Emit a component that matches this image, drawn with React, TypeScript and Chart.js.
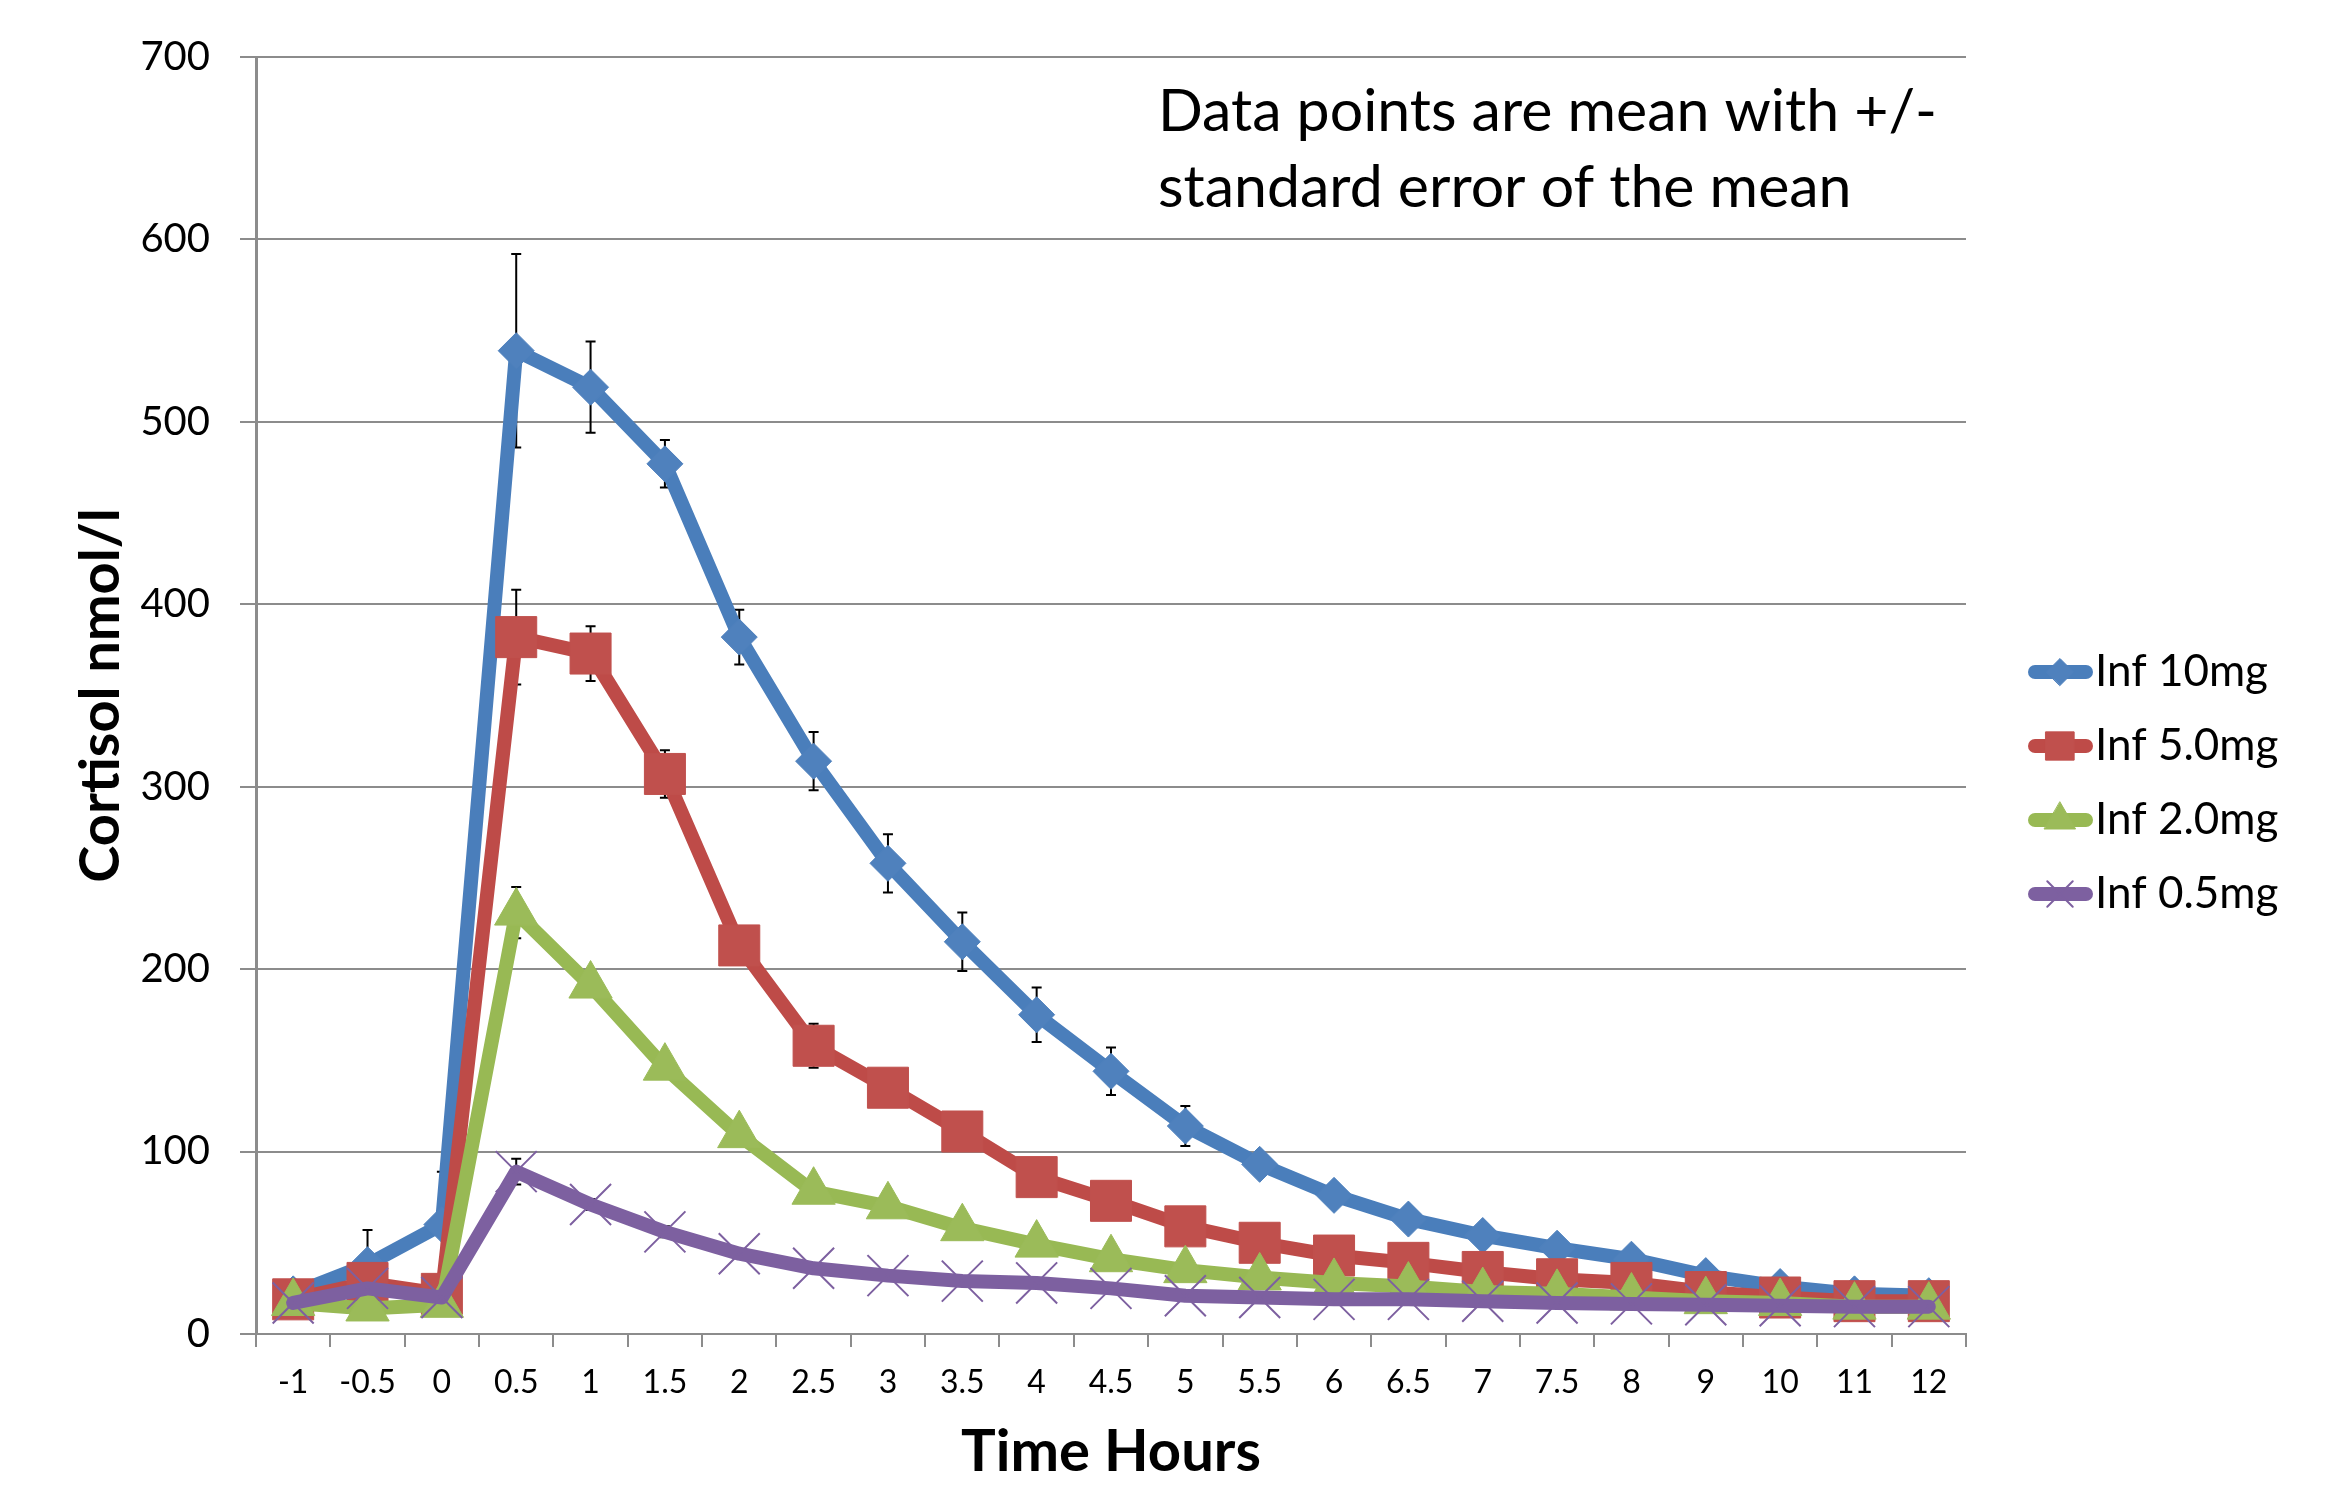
import React, { useEffect, useRef } from 'react';
import { Chart, registerables } from 'chart.js';
import { drawPoint } from 'chart.js/helpers';

Chart.register(...registerables);

const timeLabels = ['-1', '-0.5', '0', '0.5', '1', '1.5', '2', '2.5', '3', '3.5', '4', '4.5', '5', '5.5', '6', '6.5', '7', '7.5', '8', '9', '10', '11', '12'];

const inf10 = [22, 38, 60, 539, 519, 477, 382, 314, 258, 215, 175, 144, 114, 93, 76, 63, 54, 47, 41, 32, 26, 22, 21];
const inf10Err = [4, 19, 29, 53, 25, 13, 15, 16, 16, 16, 15, 13, 11, 6, 5, 4, 4, 3, 3, 3, 2, 2, 2];

const inf5 = [19, 28, 22, 382, 373, 307, 213, 158, 135, 111, 86, 73, 59, 50, 43, 39, 34, 30, 28, 23, 20, 18, 18];
const inf5Err = [2, 3, 3, 26, 15, 13, 10, 12, 6, 5, 4, 3, 3, 3, 2, 2, 2, 2, 2, 2, 2, 1, 1];

const inf2 = [17, 14, 16, 231, 191, 146, 109, 78, 70, 58, 49, 41, 35, 31, 28, 26, 23, 22, 20, 18, 17, 15, 15];
const inf2Err = [1, 1, 1, 14, 6, 5, 6, 6, 4, 3, 3, 2, 2, 2, 2, 2, 1, 1, 1, 1, 1, 1, 1];

const inf05 = [17, 25, 20, 89, 71, 56, 44, 36, 32, 29, 28, 25, 21, 20, 19, 19, 18, 17, 16.5, 16, 15.5, 15, 15];
const inf05Err = [1, 2, 2, 7, 3, 3, 2, 2, 2, 2, 2, 1, 1, 1, 1, 1, 1, 1, 1, 1, 1, 1, 1];

const seriesLabels = ['Inf 10mg', 'Inf 5.0mg', 'Inf 2.0mg', 'Inf 0.5mg'];
const yTicks = [0, 100, 200, 300, 400, 500, 600, 700];
const noteLines = ['Data points are mean with +/-', 'standard error of the mean'];

const FONT = 'Lato, "Open Sans", sans-serif';

const errorBarPlugin = {
  id: 'errorBars',
  beforeDatasetDraw(chart: any, args: any) {
    const ds: any = chart.data.datasets[args.index];
    const errs = ds.errors;
    if (!errs) return;
    const yScale = chart.scales.y;
    const ctx = chart.ctx;
    ctx.save();
    ctx.strokeStyle = '#000';
    ctx.lineWidth = 2;
    args.meta.data.forEach((pt: any, i: number) => {
      const v = ds.data[i];
      const e = errs[i];
      if (!e) return;
      const top = yScale.getPixelForValue(v + e);
      const bot = yScale.getPixelForValue(v - e);
      const x = pt.x;
      ctx.beginPath();
      ctx.moveTo(x, top);
      ctx.lineTo(x, bot);
      ctx.moveTo(x - 5, top);
      ctx.lineTo(x + 5, top);
      ctx.moveTo(x - 5, bot);
      ctx.lineTo(x + 5, bot);
      ctx.stroke();
    });
    ctx.restore();
  },
};

const legendRadii = [13.5, 20, 18, 18];

const legendPlugin = {
  id: 'customLegend',
  afterDraw(chart: any) {
    const ctx = chart.ctx;
    const top = 672;
    const step = 74;
    chart.data.datasets.forEach((ds: any, i: number) => {
      const cy = top + i * step;
      ctx.save();
      ctx.strokeStyle = ds.borderColor;
      ctx.lineWidth = 14;
      ctx.lineCap = 'round';
      ctx.beginPath();
      ctx.moveTo(2035, cy);
      ctx.lineTo(2086, cy);
      ctx.stroke();
      ctx.fillStyle = ds.pointBackgroundColor;
      ctx.strokeStyle = ds.pointBorderColor;
      ctx.lineWidth = ds.pointBorderWidth;
      drawPoint(ctx, { pointStyle: ds.pointStyle, radius: legendRadii[i], rotation: 0, borderWidth: ds.pointBorderWidth } as any, 2060, cy);
      ctx.fillStyle = '#000';
      ctx.font = `44px ${FONT}`;
      ctx.textBaseline = 'middle';
      ctx.textAlign = 'left';
      ctx.fillText(ds.label, 2095, cy);
      ctx.restore();
    });
  },
};

const notePlugin = {
  id: 'note',
  afterDraw(chart: any) {
    const ctx = chart.ctx;
    ctx.save();
    ctx.fillStyle = '#000';
    ctx.font = `59px ${FONT}`;
    ctx.textBaseline = 'middle';
    ctx.textAlign = 'left';
    noteLines.forEach((t, i) => ctx.fillText(t, 1158, 112 + i * 76));
    ctx.restore();
  },
};

export default function App() {
  const ref = useRef<HTMLCanvasElement | null>(null);

  useEffect(() => {
    if (!ref.current) return;
    const mk = (label: string, data: number[], errors: number[], line: string, fill: string, style: string, radius: number, bw: number, order: number) => ({
      label,
      data,
      errors,
      borderColor: line,
      backgroundColor: fill,
      borderWidth: 14,
      borderCapStyle: 'round',
      borderJoinStyle: 'round',
      tension: 0,
      pointStyle: style,
      pointRadius: radius,
      pointBackgroundColor: fill,
      pointBorderColor: style === 'crossRot' ? line : fill,
      pointBorderWidth: bw,
      order,
    });

    const chart = new Chart(ref.current, {
      type: 'line',
      data: {
        labels: timeLabels,
        datasets: [
          mk(seriesLabels[0], inf10, inf10Err, '#4A7EBB', '#4F81BD', 'rectRot', 18, 1, 4),
          mk(seriesLabels[1], inf5, inf5Err, '#BE4B48', '#C0504D', 'rect', 29, 1, 3),
          mk(seriesLabels[2], inf2, inf2Err, '#98B954', '#9BBB59', 'triangle', 25, 1, 2),
          mk(seriesLabels[3], inf05, inf05Err, '#7D60A0', '#8064A2', 'crossRot', 29, 2, 1),
        ] as any,
      },
      options: {
        animation: false,
        responsive: false,
        events: [],
        layout: { padding: { top: 57, right: 369, left: 0, bottom: 0 } },
        plugins: {
          legend: { display: false },
          tooltip: { enabled: false },
        },
        scales: {
          x: {
            type: 'category',
            offset: true,
            grid: {
              offset: true,
              drawOnChartArea: false,
              drawTicks: true,
              tickLength: 13,
              color: '#8c8c8c',
              lineWidth: 2,
            },
            border: { color: '#8c8c8c', width: 2 },
            ticks: {
              color: '#000',
              font: { family: FONT, size: 32 },
              padding: 16,
              maxRotation: 0,
              autoSkip: false,
            },
            title: {
              display: true,
              text: 'Time Hours',
              color: '#000',
              font: { family: FONT, size: 58, weight: 'bold', lineHeight: 1 },
              padding: { top: 0, bottom: 4 },
            },
            afterFit: (s: any) => { s.height = 151; },
          },
          y: {
            min: yTicks[0],
            max: yTicks[yTicks.length - 1],
            afterBuildTicks: (s: any) => { s.ticks = yTicks.map((v) => ({ value: v })); },
            grid: {
              color: '#8c8c8c',
              lineWidth: 2,
              drawTicks: true,
              tickLength: 16,
            },
            border: { color: '#8c8c8c', width: 3 },
            ticks: {
              color: '#000',
              font: { family: FONT, size: 40 },
              padding: 30,
            },
            title: {
              display: true,
              text: 'Cortisol nmol/l',
              color: '#000',
              font: { family: FONT, size: 56, weight: 'bold', lineHeight: 1 },
              padding: { top: 73, bottom: 0 },
            },
            afterFit: (s: any) => { s.width = 256; },
          },
        },
      } as any,
      plugins: [errorBarPlugin, legendPlugin, notePlugin],
    });
    return () => chart.destroy();
  }, []);

  return (
    <div style={{ position: 'absolute', left: 0, top: 0, width: 2335, height: 1485, background: '#fff' }}>
      <canvas ref={ref} width={2335} height={1485} style={{ display: 'block', width: 2335, height: 1485 }} />
    </div>
  );
}
